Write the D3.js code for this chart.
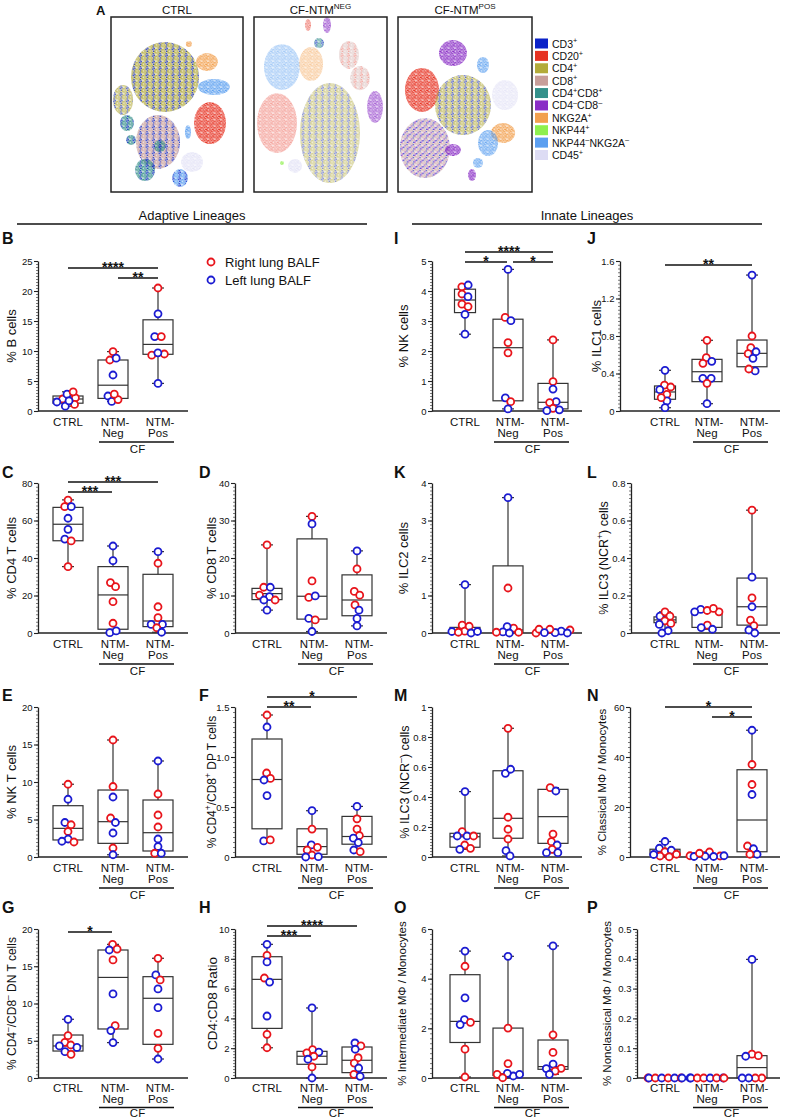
<!DOCTYPE html>
<html>
<head>
<meta charset="utf-8">
<script src="https://cdn.jsdelivr.net/npm/d3@7"></script>
<style>
  body { margin: 0; background: #fff; }
  svg text { font-family: "Liberation Sans", Arial, sans-serif; fill: #111; }
</style>
</head>
<body>
<svg id="fig" width="789" height="1120"></svg>
<script>
// ---------- data ----------
const groups = ["CTRL", "NTM-Neg", "NTM-Pos"];
const legendItems = [["R", "Right lung BALF"], ["L", "Left lung BALF"]];

// tSNE marker legend
const markers = ["CD3+", "CD20+", "CD4+", "CD8+", "CD4+CD8+", "CD4-CD8-", "NKG2A+", "NKP44+", "NKP44-NKG2A-", "CD45+"];
const markerLabels = ["CD3{+}", "CD20{+}", "CD4{+}", "CD8{+}", "CD4{+}CD8{+}", "CD4{–}CD8{–}", "NKG2A{+}", "NKP44{+}", "NKP44{–}NKG2A{–}", "CD45{+}"];
const markerColors = ["#0b22c8", "#e63222", "#b3ab3a", "#c89e9a", "#34908a", "#8a2ec6", "#f2a04e", "#8ef04e", "#5b9ff0", "#dddcf4"];

// tSNE clusters: [u, v, rx, ry, marker mix, density]  (u,v in 0-100 map units)
const tsneCtrl = [
  [40.9, 34.3, 25.8, 20, "CD4+|CD3+", 1],
  [9.1, 47.4, 7.6, 8.6, "CD4+|CD3+", 0.85],
  [72.7, 25.7, 8.3, 5.1, "NKG2A+", 1],
  [78, 40, 12, 4.6, "NKP44-NKG2A-", 1],
  [59, 15.4, 2.3, 1.7, "NKG2A+", 1],
  [75, 60.6, 12.1, 12, "CD20+", 1],
  [35.6, 71.4, 16.7, 15.4, "CD8+|CD3+", 1],
  [12.1, 60.6, 5.3, 4.6, "CD4+CD8+|CD3+", 1],
  [15.2, 70.3, 3.8, 2.9, "CD4+CD8+|CD3+", 1],
  [25.8, 87.4, 7.6, 6.3, "CD4+CD8+|CD3+", 1],
  [37, 73.7, 4.5, 3.4, "CD4+CD8+|CD3+", 1],
  [58.3, 65.7, 2.3, 4, "NKP44-NKG2A-", 1],
  [52.3, 92, 6, 5.1, "NKP44-NKG2A-|CD3+", 1],
  [61.4, 82.9, 8.3, 5.7, "CD45+", 0.8]
];
const tsneNeg = [
  [21, 28.6, 13.5, 13.1, "NKP44-NKG2A-", 0.55],
  [42.9, 26.9, 9, 9.7, "NKG2A+", 0.55],
  [71.4, 21.7, 7.5, 8, "CD8+|CD20+", 0.5],
  [79.7, 34.9, 7.5, 6.9, "CD8+|CD20+", 0.5],
  [57.1, 66.3, 22.6, 28.6, "CD4+|CD3+", 0.6],
  [17.3, 60.6, 15, 17.1, "CD20+", 0.45],
  [91, 51.4, 6, 9.1, "CD4-CD8-", 0.75],
  [54.9, 4.6, 3, 4.6, "CD4-CD8-", 0.8],
  [40.6, 4.6, 2.3, 3.4, "CD20+", 0.6],
  [48.9, 14.9, 3.8, 2.9, "CD4+CD8+|CD3+", 0.8],
  [30.8, 85.1, 5.3, 4, "CD45+", 0.8],
  [21, 83.4, 1.5, 1.1, "NKP44+", 1]
];
const tsnePos = [
  [41, 20.6, 10.4, 7.4, "CD4-CD8-", 1],
  [17.9, 41.7, 12.7, 12.6, "CD20+", 1],
  [48.5, 50.3, 20.9, 17.1, "CD4+|CD3+", 0.8],
  [79.9, 44.6, 9.7, 8.6, "CD45+", 0.7],
  [20.1, 74.9, 18.7, 17.1, "CD8+|CD3+|CD4-CD8-", 0.8],
  [41, 76, 6, 3.4, "CD4-CD8-", 1],
  [55.2, 90.3, 3, 3.4, "CD4-CD8-", 1],
  [78.4, 66.3, 9, 5.7, "NKG2A+", 1],
  [67.2, 72, 7.5, 7.4, "NKP44-NKG2A-", 0.9],
  [59.7, 83.4, 3.7, 2.9, "NKP44-NKG2A-", 0.9],
  [63.4, 27.4, 4.5, 4.6, "NKP44-NKG2A-", 0.9]
];

// box plots: points [lung side, value] per group; box = [min, q1, median, q3, max]
const bTicks = ["0", "5", "10", "15", "20", "25"];
const bCells = [
  [["R", 2.0], ["L", 2.8], ["R", 2.2], ["R", 3.2], ["L", 1.5], ["L", 0.8], ["R", 1.1], ["L", 1.7]],
  [["R", 9.9], ["R", 8.5], ["L", 8.8], ["L", 6.0], ["L", 2.5], ["L", 1.6], ["R", 1.9], ["R", 2.8]],
  [["R", 20.5], ["L", 16.2], ["L", 12.4], ["R", 12.4], ["R", 9.5], ["R", 9.3], ["L", 9.7], ["L", 4.6]]
];
const bBox = [[0.8, 1.3, 2.0, 2.5, 3.2], [1.6, 2.1, 4.3, 8.5, 9.9], [4.6, 9.45, 11.1, 15.2, 20.5]];
const bSig = [[0, 2, "****"], [1, 2, "**"]];

const cd4Ticks = ["0", "20", "40", "60", "80"];
const cd4Cells = [
  [["R", 70.9], ["R", 67.4], ["L", 67.4], ["L", 61.2], ["L", 55.3], ["L", 50.1], ["R", 49.1], ["R", 35.4]],
  [["L", 46.4], ["L", 38.6], ["R", 26.9], ["R", 24.7], ["R", 16.7], ["R", 5.2], ["L", 0.2], ["L", 1.1]],
  [["L", 43.4], ["R", 37.2], ["R", 14.0], ["R", 8.2], ["L", 4.6], ["L", 4.6], ["R", 2.8], ["L", 0.4]]
];
const cd4Box = [[35.4, 49.2, 58, 67, 71], [0.2, 2.0, 20.3, 35.4, 46.4], [0.4, 3.4, 6.4, 31.3, 43.4]];
const cd4Sig = [[0, 2, "***"], [0, 1, "***"]];

const cd8Ticks = ["0", "10", "20", "30", "40"];
const cd8Cells = [
  [["R", 23.5], ["R", 12.2], ["L", 12.2], ["R", 10.1], ["L", 9.7], ["R", 8.8], ["L", 8.8], ["L", 6.1]],
  [["R", 31.1], ["L", 29.1], ["R", 13.9], ["R", 9.5], ["L", 9.9], ["L", 3.9], ["R", 3.5], ["L", 0.4]],
  [["L", 21.9], ["R", 17.1], ["R", 11.1], ["R", 10.1], ["R", 7.5], ["L", 6.1], ["L", 3.9], ["L", 1.9]]
];
const cd8Box = [[6.1, 8.9, 10.5, 11.9, 23.5], [0.4, 3.7, 9.8, 25.1, 31.1], [1.9, 4.6, 8.8, 15.5, 21.9]];

const nktTicks = ["0", "5", "10", "15", "20"];
const nktCells = [
  [["R", 9.7], ["L", 7.7], ["L", 4.6], ["R", 4.3], ["R", 3.4], ["L", 2.4], ["R", 2.0], ["L", 2.1]],
  [["R", 15.6], ["R", 9.4], ["L", 8.0], ["R", 5.2], ["L", 4.6], ["L", 3.2], ["R", 1.2], ["L", 0.3]],
  [["L", 12.8], ["R", 8.4], ["R", 5.6], ["R", 4.0], ["L", 2.4], ["L", 1.4], ["R", 0.5], ["L", 0.5]]
];
const nktBox = [[2.0, 2.27, 3.82, 6.84, 9.7], [0.3, 1.82, 4.71, 8.93, 15.6], [0.5, 0.8, 3.24, 7.6, 12.8]];

const dpTicks = ["0", "0.5", "1.0", "1.5"];
const dpCells = [
  [["R", 1.42], ["L", 1.30], ["R", 0.84], ["R", 0.786], ["L", 0.77], ["L", 0.614], ["L", 0.161], ["R", 0.171]],
  [["L", 0.463], ["R", 0.279], ["L", 0.121], ["R", 0.07], ["R", 0.097], ["R", 0.02], ["L", 0.0], ["L", 0.003]],
  [["L", 0.506], ["R", 0.382], ["R", 0.279], ["R", 0.215], ["L", 0.188], ["L", 0.144], ["L", 0.07], ["R", 0.053]]
];
const dpBox = [[0.161, 0.282, 0.775, 1.18, 1.42], [0, 0.027, 0.104, 0.282, 0.463], [0.053, 0.128, 0.205, 0.406, 0.506]];
const dpSig = [[0, 2, "*"], [0, 1, "**"]];

const dnTicks = ["0", "5", "10", "15", "20"];
const dnCells = [
  [["L", 7.88], ["R", 5.68], ["R", 4.79], ["L", 4.3], ["R", 4.43], ["L", 4.1], ["L", 3.53], ["R", 3.18]],
  [["R", 17.94], ["L", 17.18], ["R", 17.3], ["R", 15.85], ["L", 11.28], ["R", 7.03], ["L", 6.36], ["L", 4.75]],
  [["R", 16.07], ["L", 13.83], ["R", 13.16], ["L", 11.95], ["L", 9.44], ["R", 6.0], ["R", 3.98], ["L", 2.55]]
];
const dnBox = [[3.18, 3.62, 4.3, 5.77, 7.88], [4.75, 6.58, 13.5, 17.18, 17.94], [2.55, 4.52, 10.7, 13.6, 16.07]];
const dnSig = [[0, 1, "*"]];

const ratioTicks = ["0", "2", "4", "6", "8", "10"];
const ratioCells = [
  [["L", 8.97], ["R", 8.23], ["L", 7.79], ["R", 6.71], ["L", 6.44], ["L", 4.16], ["R", 2.93], ["R", 2.03]],
  [["L", 4.7], ["R", 1.9], ["R", 1.68], ["L", 1.74], ["R", 1.46], ["L", 1.26], ["R", 0.74], ["L", 0.0]],
  [["L", 2.35], ["R", 2.15], ["L", 1.93], ["R", 1.36], ["R", 1.0], ["L", 0.67], ["R", 0.25], ["L", 0.11]]
];
const ratioBox = [[2.03, 3.33, 6.62, 8.14, 8.97], [0, 0.92, 1.46, 1.79, 4.7], [0.11, 0.36, 1.19, 2.08, 2.35]];
const ratioSig = [[0, 2, "****"], [0, 1, "***"]];

const nkTicks = ["0", "1", "2", "3", "4", "5"];
const nkCells = [
  [["R", 4.14], ["L", 4.2], ["R", 3.9], ["L", 3.81], ["R", 3.56], ["R", 3.48], ["L", 3.22], ["L", 2.56]],
  [["L", 4.72], ["R", 3.12], ["L", 3.01], ["R", 2.28], ["R", 1.94], ["L", 0.44], ["R", 0.31], ["L", 0.07]],
  [["R", 2.37], ["R", 0.98], ["L", 0.73], ["L", 0.31], ["R", 0.28], ["R", 0.09], ["L", 0.01], ["L", 0.04]]
];
const nkBox = [[2.56, 3.28, 3.7, 4.06, 4.2], [0.07, 0.34, 2.11, 3.06, 4.72], [0.01, 0.07, 0.29, 0.92, 2.37]];
const nkSig = [[0, 2, "****"], [0, 1, "*"], [1, 2, "*"]];

const ilc1Ticks = ["0", "0.4", "0.8", "1.2", "1.6"];
const ilc1Cells = [
  [["L", 0.434], ["R", 0.277], ["R", 0.256], ["L", 0.228], ["R", 0.178], ["L", 0.107], ["R", 0.142], ["L", 0.035]],
  [["R", 0.754], ["R", 0.569], ["R", 0.509], ["L", 0.53], ["L", 0.349], ["L", 0.349], ["R", 0.295], ["L", 0.078]],
  [["L", 1.45], ["R", 0.80], ["R", 0.675], ["R", 0.611], ["L", 0.632], ["L", 0.562], ["L", 0.427], ["R", 0.448]]
];
const ilc1Box = [[0.035, 0.125, 0.203, 0.267, 0.434], [0.078, 0.313, 0.419, 0.551, 0.754], [0.427, 0.472, 0.615, 0.757, 1.45]];
const ilc1Sig = [[0, 2, "**"]];

const ilc2Ticks = ["0", "1", "2", "3", "4"];
const ilc2Cells = [
  [["L", 1.29], ["R", 0.21], ["L", 0.04], ["R", 0.05], ["R", 0.18], ["L", 0.0], ["R", 0.02], ["L", 0.04]],
  [["L", 3.61], ["R", 1.2], ["R", 0.13], ["L", 0.17], ["L", 0.03], ["L", 0.0], ["R", 0.02], ["R", 0.02]],
  [["R", 0.0], ["L", 0.05], ["R", 0.08], ["R", 0.1], ["L", 0.0], ["L", 0.01], ["R", 0.1], ["L", 0.01]]
];
const ilc2Box = [[0, 0.03, 0.06, 0.15, 1.29], [0, 0.02, 0.08, 1.79, 3.61], [0, 0.02, 0.05, 0.09, 0.1]];

const ncrPosTicks = ["0", "0.2", "0.4", "0.6", "0.8"];
const ncrPosCells = [
  [["L", 0.09], ["R", 0.113], ["R", 0.09], ["R", 0.065], ["R", 0.051], ["L", 0.046], ["L", 0.012], ["L", 0.0]],
  [["L", 0.126], ["R", 0.113], ["L", 0.113], ["R", 0.12], ["R", 0.131], ["R", 0.042], ["L", 0.02], ["L", 0.029]],
  [["R", 0.655], ["L", 0.298], ["R", 0.187], ["L", 0.14], ["R", 0.069], ["R", 0.039], ["L", 0.016], ["L", 0.0]]
];
const ncrPosBox = [[0, 0.055, 0.07, 0.086, 0.113], [0.02, 0.03, 0.115, 0.122, 0.131], [0, 0.042, 0.14, 0.293, 0.655]];

const ncrNegTicks = ["0", "0.2", "0.4", "0.6", "0.8", "1"];
const ncrNegCells = [
  [["L", 0.436], ["R", 0.169], ["L", 0.14], ["L", 0.14], ["R", 0.14], ["R", 0.08], ["L", 0.051], ["R", 0.058]],
  [["R", 0.858], ["L", 0.558], ["L", 0.585], ["R", 0.265], ["R", 0.185], ["R", 0.12], ["L", 0.042], ["L", 0.007]],
  [["R", 0.462], ["L", 0.44], ["R", 0.153], ["R", 0.102], ["L", 0.08], ["R", 0.051], ["L", 0.029], ["L", 0.029]]
];
const ncrNegBox = [[0.051, 0.065, 0.135, 0.158, 0.436], [0.007, 0.125, 0.258, 0.575, 0.858], [0.029, 0.091, 0.269, 0.451, 0.462]];

const classicalTicks = ["0", "20", "40", "60"];
const classicalCells = [
  [["L", 3.5], ["L", 6.2], ["R", 2.1], ["L", 2.7], ["R", 0.4], ["R", 1.1], ["R", 0.1], ["L", 1.0]],
  [["R", 2.0], ["R", 0.4], ["R", 0.5], ["L", 0.2], ["L", 0.3], ["R", 1.5], ["L", 0.2], ["L", 0.5]],
  [["L", 50.7], ["R", 37.0], ["R", 29.0], ["L", 25.0], ["R", 4.4], ["L", 3.3], ["L", 1.1], ["R", 1.1]]
];
const classicalBox = [[0.1, 0.7, 1.7, 3.1, 6.2], [0.2, 0.25, 0.4, 1.0, 2.0], [1.1, 2.1, 14.8, 34.9, 50.7]];
const classicalSig = [[0, 2, "*"], [1, 2, "*"]];

const intermTicks = ["0", "2", "4", "6"];
const intermCells = [
  [["L", 5.11], ["R", 4.5], ["L", 3.23], ["L", 2.35], ["L", 2.15], ["R", 2.24], ["R", 1.16], ["R", 0.04]],
  [["L", 4.9], ["R", 2.01], ["R", 0.58], ["R", 0.15], ["L", 0.08], ["L", 0.19], ["L", 0.15], ["R", 0.01]],
  [["L", 5.32], ["R", 1.74], ["R", 1.03], ["L", 0.56], ["L", 0.38], ["R", 0.39], ["R", 0.28], ["L", 0.15]]
];
const intermBox = [[0.04, 1.43, 2.28, 4.16, 5.11], [0.01, 0.1, 0.17, 2.01, 4.9], [0.15, 0.35, 0.46, 1.53, 5.32]];

const nonclassTicks = ["0", "0.1", "0.2", "0.3", "0.4", "0.5"];
const nonclassCells = [
  [["R", 0], ["L", 0], ["R", 0], ["L", 0], ["R", 0], ["L", 0], ["R", 0], ["L", 0]],
  [["L", 0], ["L", 0], ["R", 0], ["R", 0], ["L", 0], ["R", 0], ["L", 0], ["R", 0]],
  [["L", 0.398], ["R", 0.08], ["R", 0.075], ["L", 0.073], ["R", 0], ["R", 0], ["L", 0], ["L", 0]]
];
const nonclassBox = [[0, 0, 0, 0, 0], [0, 0, 0, 0, 0], [0, 0, 0.035, 0.075, 0.398]];

// ---------- layout ----------
const rowY = [[261, 411], [483, 633], [707, 857], [929, 1078]];
const rowLetterY = [244, 478, 701, 913];
// category label offsets below the x axis: [first line, second line, CF rule, CF text]
const rowLabelOff = [[15, 26, 31, 42], [15, 26, 31, 42], [15, 26, 31, 42], [13.5, 24.5, 29.5, 38.5]];
const colAxisX = [38, 235, 432, 630];
const colCats = [[68, 113, 158], [267, 312, 357], [465, 508, 553], [665, 707, 752]];
const colEnd = [188, 387, 582, 780];
const colLetterX = [2, 199, 394, 587];
const colLabelX = [16, 216, 408, 607];

const panels = [
  { id: "B", row: 0, col: 0, title: "% B cells", ticks: bTicks, pts: bCells, box: bBox, sig: bSig, sigTop: 7 },
  { id: "C", row: 1, col: 0, title: "% CD4 T cells", ticks: cd4Ticks, pts: cd4Cells, box: cd4Box, sig: cd4Sig, sigTop: -1 },
  { id: "D", row: 1, col: 1, title: "% CD8 T cells", ticks: cd8Ticks, pts: cd8Cells, box: cd8Box },
  { id: "E", row: 2, col: 0, title: "% NK T cells", ticks: nktTicks, pts: nktCells, box: nktBox },
  { id: "F", row: 2, col: 1, title: "% CD4{+}/CD8{+} DP T cells", ticks: dpTicks, pts: dpCells, box: dpBox, sig: dpSig, sigTop: -10, fs: 12 },
  { id: "G", row: 3, col: 0, title: "% CD4{–}/CD8{–} DN T cells", ticks: dnTicks, pts: dnCells, box: dnBox, sig: dnSig, sigTop: 3, fs: 12 },
  { id: "H", row: 3, col: 1, title: "CD4:CD8 Ratio", ticks: ratioTicks, pts: ratioCells, box: ratioBox, sig: ratioSig, sigTop: -3, fs: 13.5, labelX: 217 },
  { id: "I", row: 0, col: 2, title: "% NK cells", ticks: nkTicks, pts: nkCells, box: nkBox, sig: nkSig, sigTop: -9, ctrlW: 21 },
  { id: "J", row: 0, col: 3, title: "% ILC1 cells", ticks: ilc1Ticks, pts: ilc1Cells, box: ilc1Box, sig: ilc1Sig, sigTop: 4, ctrlW: 21, axisX: 620, labelX: 601 },
  { id: "K", row: 1, col: 2, title: "% ILC2 cells", ticks: ilc2Ticks, pts: ilc2Cells, box: ilc2Box },
  { id: "L", row: 1, col: 3, title: "% ILC3 (NCR{+}) cells", ticks: ncrPosTicks, pts: ncrPosCells, box: ncrPosBox, ctrlW: 22, axisX: 631, fs: 12.5, labelX: 608 },
  { id: "M", row: 2, col: 2, title: "% ILC3 (NCR{–}) cells", ticks: ncrNegTicks, pts: ncrNegCells, box: ncrNegBox, fs: 12.5, labelX: 409 },
  { id: "N", row: 2, col: 3, title: "% Classical MΦ / Monocytes", ticks: classicalTicks, pts: classicalCells, box: classicalBox, sig: classicalSig, sigTop: 0, fs: 11.5, labelX: 606 },
  { id: "O", row: 3, col: 2, title: "% Intermediate MΦ / Monocytes", ticks: intermTicks, pts: intermCells, box: intermBox, fs: 11.5, labelX: 406 },
  { id: "P", row: 3, col: 3, title: "% Nonclassical MΦ / Monocytes", ticks: nonclassTicks, pts: nonclassCells, box: nonclassBox, fs: 11.5, axisX: 637, labelX: 611 }
];

// ---------- drawing ----------
const svg = d3.select("#fig");
const defs = svg.append("defs");
const sideColor = d3.scaleOrdinal().domain(["R", "L"]).range(["#e8141b", "#1b1bd1"]);
const markerColor = d3.scaleOrdinal().domain(markers).range(markerColors);

// text with {superscript} parts
function rich(sel, str, fs) {
  const shift = fs * 0.4;
  let up = false;
  str.split(/(\{[^}]*\})/).filter(s => s.length).forEach(p => {
    if (p[0] === "{") {
      sel.append("tspan").attr("dy", -shift).attr("font-size", fs * 0.7).text(p.slice(1, -1));
      up = true;
    } else {
      sel.append("tspan").attr("dy", up ? shift : 0).text(p);
      up = false;
    }
  });
  return sel;
}

// ---- panel A: tSNE maps ----
svg.append("text").attr("x", 96).attr("y", 15).attr("font-size", 13).attr("font-weight", "bold").text("A");

const speckleSpots = [[0.2, 0.3], [3.1, 0.9], [5.0, 0.1], [1.4, 2.0], [4.1, 2.6], [0.0, 3.6],
  [2.5, 3.4], [5.2, 3.9], [1.2, 5.0], [3.6, 5.2], [2.2, 0.1], [4.6, 5.6]];
function speckle(mix) {
  const id = "pat_" + mix.replace(/[^A-Za-z0-9]/g, "_");
  if (!defs.select("#" + id).empty()) return id;
  const cols = mix.split("|").map(m => markerColor(m));
  const seq = cols.length === 1 ? speckleSpots.map(() => 0)
    : cols.length === 2 ? [0, 1, 0, 0, 1, 0, 1, 0, 0, 1, 0, 0] : [0, 1, 0, 2, 0, 1, 0, 2, 0, 1, 0, 2];
  const pat = defs.append("pattern").attr("id", id).attr("patternUnits", "userSpaceOnUse")
    .attr("width", 6.5).attr("height", 6.5);
  pat.append("rect").attr("width", 6.5).attr("height", 6.5).attr("fill", cols[0]).attr("opacity", 0.3);
  speckleSpots.forEach((s, i) => pat.append("rect").attr("x", s[0]).attr("y", s[1])
    .attr("width", 1.4).attr("height", 1.3).attr("fill", cols[seq[i] % cols.length]));
  return id;
}

const tsnePanels = [
  { title: "CTRL", x0: 111, x1: 243, clusters: tsneCtrl },
  { title: "CF-NTM{NEG}", x0: 254, x1: 387, clusters: tsneNeg },
  { title: "CF-NTM{POS}", x0: 398, x1: 532, clusters: tsnePos }
];
tsnePanels.forEach(tp => {
  const g = svg.append("g");
  const u = d3.scaleLinear().domain([0, 100]).range([tp.x0, tp.x1]);
  const v = d3.scaleLinear().domain([0, 100]).range([17, 192]);
  const ku = (tp.x1 - tp.x0) / 100, kv = 175 / 100;
  g.selectAll("ellipse").data(tp.clusters).enter().append("ellipse")
    .attr("cx", d => u(d[0])).attr("cy", d => v(d[1]))
    .attr("rx", d => d[2] * ku).attr("ry", d => d[3] * kv)
    .attr("fill", d => `url(#${speckle(d[4])})`)
    .attr("fill-opacity", d => d[5]);
  g.append("rect").attr("x", tp.x0).attr("y", 17).attr("width", tp.x1 - tp.x0).attr("height", 175)
    .attr("fill", "none").attr("stroke", "#222").attr("stroke-width", 1.5);
  rich(g.append("text").attr("x", (tp.x0 + tp.x1) / 2).attr("y", 14).attr("text-anchor", "middle")
    .attr("font-size", 11.5), tp.title, 11.5);
});

const lg = svg.append("g");
const legY = d3.scaleLinear().domain([0, markers.length - 1]).range([43.5, 155]);
markers.forEach((m, i) => {
  lg.append("rect").attr("x", 535).attr("y", legY(i) - 5).attr("width", 13).attr("height", 10)
    .attr("fill", markerColor(m));
  rich(lg.append("text").attr("x", 552).attr("y", legY(i) + 4).attr("font-size", 10.5), markerLabels[i], 10.5);
});

// ---- section headers ----
[["Adaptive Lineages", 17, 367], ["Innate Lineages", 412, 762]].forEach(([t, a, b]) => {
  svg.append("text").attr("x", (a + b) / 2).attr("y", 220).attr("text-anchor", "middle")
    .attr("font-size", 13).text(t);
  svg.append("line").attr("x1", a).attr("x2", b).attr("y1", 224).attr("y2", 224)
    .attr("stroke", "#111").attr("stroke-width", 1.3);
});

// ---- box plot panels ----
function drawPanel(p) {
  const [yTop, yBot] = rowY[p.row];
  const off = rowLabelOff[p.row];
  const ax = p.axisX || colAxisX[p.col];
  const tickVals = p.ticks.map(Number);
  const y = d3.scaleLinear().domain([0, d3.max(tickVals)]).range([yBot, yTop]);
  const x = d3.scaleOrdinal().domain(groups).range(colCats[p.col]);
  const g = svg.append("g");

  // panel letter
  g.append("text").attr("x", colLetterX[p.col]).attr("y", rowLetterY[p.row])
    .attr("font-size", 16).attr("font-weight", "bold").text(p.id);

  // minor ticks
  const step = tickVals[1] - tickVals[0];
  const minor = d3.range(0, d3.max(tickVals) + 1e-9, step / 10);
  g.append("g").attr("transform", `translate(${ax},0)`)
    .call(d3.axisLeft(y).tickValues(minor).tickSize(2).tickFormat(""))
    .call(a => a.select(".domain").remove())
    .call(a => a.selectAll("line").attr("stroke", "#444").attr("stroke-width", 0.7));
  // major axis
  g.append("g").attr("transform", `translate(${ax},0)`)
    .call(d3.axisLeft(y).tickValues(tickVals).tickSize(4).tickSizeOuter(0).tickPadding(1.5)
      .tickFormat((d, i) => p.ticks[i]))
    .call(a => a.select(".domain").attr("stroke", "#222").attr("stroke-width", 1.3))
    .call(a => a.selectAll(".tick line").attr("stroke", "#222").attr("stroke-width", 1.1))
    .call(a => a.selectAll(".tick text").attr("font-size", 9.5).attr("fill", "#333")
      .attr("font-family", "Liberation Sans, Arial, sans-serif"));

  // x axis line
  g.append("line").attr("x1", ax).attr("x2", colEnd[p.col]).attr("y1", yBot).attr("y2", yBot)
    .attr("stroke", "#222").attr("stroke-width", 1.3);

  // y label
  const lx = p.labelX || colLabelX[p.col];
  rich(g.append("text")
    .attr("transform", `translate(${lx},${(yTop + yBot) / 2}) rotate(-90)`)
    .attr("text-anchor", "middle").attr("font-size", p.fs || 13), p.title, p.fs || 13);

  // boxes
  groups.forEach((grp, i) => {
    const [mn, q1, md, q3, mx] = p.box[i];
    const cx = x(grp);
    const w = (i === 0 && p.ctrlW) ? p.ctrlW : 30;
    const bg = g.append("g").attr("stroke", "#333").attr("fill", "none").attr("stroke-width", 1.2);
    bg.append("line").attr("x1", cx).attr("x2", cx).attr("y1", y(mx)).attr("y2", y(q3));
    bg.append("line").attr("x1", cx).attr("x2", cx).attr("y1", y(q1)).attr("y2", y(mn));
    [mn, mx].forEach(v => bg.append("line").attr("x1", cx - 6).attr("x2", cx + 6)
      .attr("y1", y(v)).attr("y2", y(v)));
    bg.append("rect").attr("x", cx - w / 2).attr("width", w)
      .attr("y", y(q3)).attr("height", Math.max(0, y(q1) - y(q3)));
    bg.append("line").attr("x1", cx - w / 2).attr("x2", cx + w / 2).attr("y1", y(md)).attr("y2", y(md));

    // points, spread like a beeswarm around the group centre
    const nodes = p.pts[i].map(([s, v]) => ({ s, v, x: cx, y: y(v), fy: y(v) }));
    const sim = d3.forceSimulation(nodes)
      .force("x", d3.forceX(cx).strength(0.12))
      .force("c", d3.forceCollide(3.3))
      .stop();
    for (let k = 0; k < 160; k++) sim.tick();
    g.append("g").selectAll("circle").data(nodes).enter().append("circle")
      .attr("cx", d => Math.max(cx - 17, Math.min(cx + 17, d.x))).attr("cy", d => d.fy)
      .attr("r", 3.5).attr("fill", "#fff").attr("stroke", d => sideColor(d.s)).attr("stroke-width", 1.8);
  });

  // significance bars
  (p.sig || []).forEach((s, k) => {
    const ly = yTop + p.sigTop + (k === 0 ? 0 : 10);
    let x1 = x(groups[s[0]]), x2 = x(groups[s[1]]);
    if (s[0] === 1) x1 += 5;
    if (s[1] === 1) x2 -= 1;
    g.append("line").attr("x1", x1).attr("x2", x2).attr("y1", ly).attr("y2", ly)
      .attr("stroke", "#111").attr("stroke-width", 1.6);
    g.append("text").attr("x", (x1 + x2) / 2).attr("y", ly + 3.5).attr("text-anchor", "middle")
      .attr("font-size", 14).attr("font-weight", "bold").text(s[2]);
  });

  // category labels
  const cats = colCats[p.col];
  g.append("text").attr("x", x("CTRL")).attr("y", yBot + off[0]).attr("text-anchor", "middle")
    .attr("font-size", 11.5).text("CTRL");
  [["NTM-Neg", "Neg"], ["NTM-Pos", "Pos"]].forEach(([grp, sub]) => {
    g.append("text").attr("x", x(grp) + 2).attr("y", yBot + off[0]).attr("text-anchor", "middle")
      .attr("font-size", 11.5).text("NTM-");
    g.append("text").attr("x", x(grp)).attr("y", yBot + off[1]).attr("text-anchor", "middle")
      .attr("font-size", 11.5).text(sub);
  });
  g.append("line").attr("x1", cats[1] - 14).attr("x2", cats[2] + 16)
    .attr("y1", yBot + off[2]).attr("y2", yBot + off[2]).attr("stroke", "#111").attr("stroke-width", 1.4);
  g.append("text").attr("x", (cats[1] + cats[2]) / 2 + 2).attr("y", yBot + off[3]).attr("text-anchor", "middle")
    .attr("font-size", 11.5).text("CF");
}
panels.forEach(drawPanel);

// lung legend in panel B
const ll = svg.append("g");
legendItems.forEach(([s, t], i) => {
  ll.append("circle").attr("cx", 211).attr("cy", 262 + i * 18).attr("r", 3.5)
    .attr("fill", "#fff").attr("stroke", sideColor(s)).attr("stroke-width", 1.8);
  ll.append("text").attr("x", 225).attr("y", 266.5 + i * 18).attr("font-size", 13).text(t);
});
</script>
</body>
</html>
